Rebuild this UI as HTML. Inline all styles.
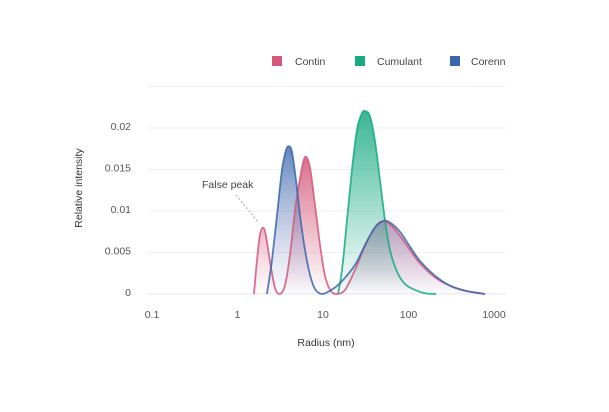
<!DOCTYPE html>
<html><head><meta charset="utf-8"><style>
body{margin:0;background:#fff;font-family:"Liberation Sans",sans-serif;}
svg text{font-family:"Liberation Sans",sans-serif;}
</style></head><body>
<svg id="chart" width="609" height="407" viewBox="0 0 609 407" xmlns="http://www.w3.org/2000/svg">
<defs>
<linearGradient id="gContin" x1="0" y1="0" x2="0" y2="1"><stop offset="0" stop-color="#d4587a" stop-opacity="0.85"/><stop offset="1" stop-color="#d4587a" stop-opacity="0"/></linearGradient>
<linearGradient id="gCorenn" x1="0" y1="0" x2="0" y2="1"><stop offset="0" stop-color="#3b66ad" stop-opacity="0.8"/><stop offset="1" stop-color="#8a9ac8" stop-opacity="0.03"/></linearGradient>
<linearGradient id="gCum" x1="0" y1="0" x2="0" y2="1"><stop offset="0" stop-color="#18aa82" stop-opacity="0.85"/><stop offset="1" stop-color="#18aa82" stop-opacity="0"/></linearGradient>
</defs>
<g id="grid"></g>
<g id="fills"></g>
<g id="marks"></g>
<g id="axes"></g>
<text x="0" y="0" transform="translate(82,188) rotate(-90)" text-anchor="middle" font-size="10.5" fill="#333">Relative intensity</text>
<text x="326" y="346" text-anchor="middle" font-size="10.5" fill="#333">Radius (nm)</text>
<text x="202" y="188" font-size="10.5" fill="#444">False peak</text>
<line x1="236" y1="195" x2="258" y2="222" stroke="#aaa" stroke-width="1" stroke-dasharray="2,2"/>
<g>
<g><rect x="272" y="56" width="10" height="10" fill="#d4587a"/><text x="295" y="65" font-size="10.5" fill="#444">Contin</text></g>
<g><rect x="355" y="56" width="10" height="10" fill="#18aa82"/><text x="377" y="65" font-size="10.5" fill="#444">Cumulant</text></g>
<g><rect x="450" y="56" width="10" height="10" fill="#3b66ad"/><text x="471" y="65" font-size="10.5" fill="#444">Corenn</text></g>
</g>
</svg>
<script>
const xTicks=[0.1,1,10,100,1000];
const xTickLabels=["0.1","1","10","100","1000"];
const yTicks=[0,0.005,0.01,0.015,0.02,0.025];
const yTickLabels=["0","0.005","0.01","0.015","0.02",""];
const continR=[1.56,1.69,1.83,1.99,2.15,2.40,2.75,3.14,3.60,4.11,4.71,5.38,6.16,7.05,8.06,9.23,10.5,12.1,14.2,18.1,23.7,31.0,40.5,49.0,60.8,79.6,104,136,204,306,458,785];
const continV=[0,.0041,.0071,.0080,.0070,.0039,.0007,0,.0011,.0047,.0101,.0139,.0165,.0152,.0107,.0059,.0023,.0005,0,.0005,.0029,.0058,.0080,.0087,.0084,.0070,.0053,.0037,.0020,.0010,.0004,0];
const corennR=[2.21,2.53,2.90,3.31,3.69,4.00,4.34,4.83,5.38,6.16,7.05,8.06,9.73,12.1,15.8,23.7,31.0,40.5,50.3,60.8,79.6,104,136,204,306,458,785];
const corennV=[0,.0041,.0095,.0149,.0173,.0178,.0171,.0137,.0095,.0053,.0023,.0006,0,.0004,.0013,.0035,.0059,.0080,.0088,.0086,.0075,.0057,.0040,.0022,.0010,.0004,0];
const cumR=[14.97,16.7,19.1,21.8,25.0,28.6,31.8,35.5,40.5,46.4,53.1,60.8,73.3,90.9,119,156,210];
const cumV=[0,.0029,.0089,.0149,.0198,.0218,.0220,.0214,.0185,.0137,.0089,.0053,.0027,.0012,.0005,.0001,0];

const X0=152,PER=85.5,Y0=294,YS=8300,XL=148,XR=506;
function xs(r){return X0+PER*(Math.log10(r)+1);}
function ys(v){return Y0-v*YS;}
const NS="http://www.w3.org/2000/svg";
function mk(tag,attrs,parent){const e=document.createElementNS(NS,tag);for(const k in attrs)e.setAttribute(k,attrs[k]);parent.appendChild(e);return e;}
const grid=document.getElementById('grid'),axes=document.getElementById('axes'),marks=document.getElementById('marks'),fills=document.getElementById('fills');
yTicks.forEach((t,i)=>{
  const l=mk('line',{x1:XL,x2:XR,y1:ys(t),y2:ys(t),stroke:i===0?'#e4e4ec':'#f0f0f3','stroke-width':1},grid);
  
  
  if(yTickLabels[i]){
    const tx=mk('text',{x:131,y:ys(t)+2,'text-anchor':'end','font-size':10.5,fill:'#555'},axes);
    tx.textContent=yTickLabels[i];
    
    
  }
});
xTicks.forEach((t,i)=>{
  const tx=mk('text',{x:xs(t),y:318,'text-anchor':'middle','font-size':10.5,fill:'#555'},axes);
  tx.textContent=xTickLabels[i];
  
  
});
function pathD(R,V){
  const p=R.map((r,i)=>[xs(r),ys(V[i])]);
  let d='M'+p[0][0].toFixed(1)+','+p[0][1].toFixed(1);
  for(let i=0;i<p.length-1;i++){
    const a=p[i-1]||p[i],b=p[i],c=p[i+1],e=p[i+2]||c;
    const c1=[b[0]+(c[0]-a[0])/6,b[1]+(c[1]-a[1])/6],c2=[c[0]-(e[0]-b[0])/6,c[1]-(e[1]-b[1])/6];
    c1[1]=Math.min(c1[1],Y0);c2[1]=Math.min(c2[1],Y0);
    d+=' C'+c1[0].toFixed(1)+','+c1[1].toFixed(1)+' '+c2[0].toFixed(1)+','+c2[1].toFixed(1)+' '+c[0].toFixed(1)+','+c[1].toFixed(1);
  }
  return {d,x0:p[0][0],x1:p[p.length-1][0]};
}
const lines=[];
function series(R,V,fill,stroke,name){
  const pd=pathD(R,V);
  const a=mk('path',{d:pd.d+' L'+pd.x1+','+Y0+' L'+pd.x0+','+Y0+' Z',fill:fill},fills);
  
  
  lines.push([pd.d,stroke,name]);
}
series(continR,continV,'url(#gContin)','#d4587a','contin-series');
series(corennR,corennV,'url(#gCorenn)','#3b66ad','corenn-series');
series(cumR,cumV,'url(#gCum)','#18aa82','cumulant-series');
[2,0,1].forEach(i=>{
  const [d,stroke,name]=lines[i];
  const l=mk('path',{d:d,fill:'none',stroke:stroke,'stroke-width':1.8,'stroke-opacity':0.85},marks);
  
  
});
</script>
</body></html>
